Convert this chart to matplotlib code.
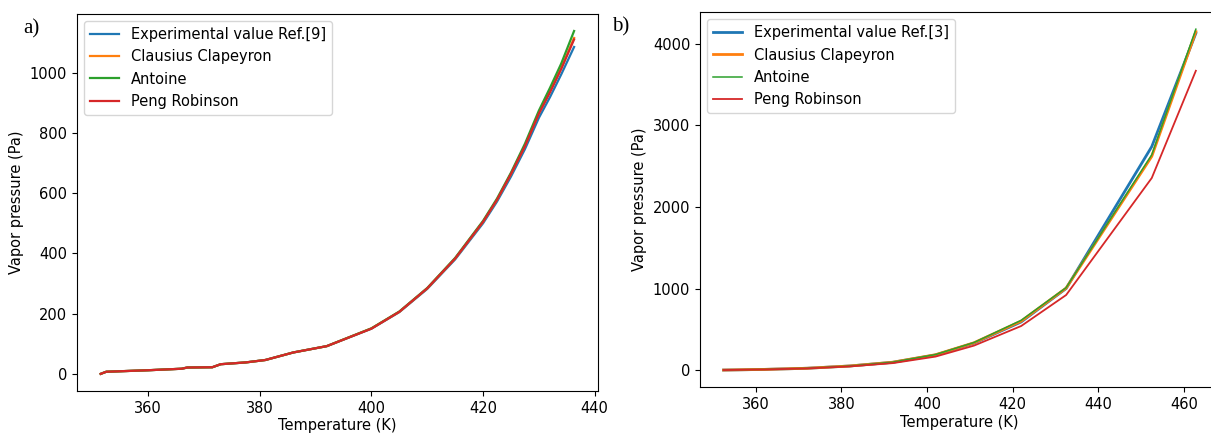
import numpy as np
import matplotlib.pyplot as plt

# ---- panel a) data (read off the picture) ----
T_a = [351.5, 352.5, 360, 366, 367, 371.5, 373, 377.5, 381, 386, 392,
       400, 405, 410, 415, 420, 422.5, 425, 427.5, 430, 432, 434, 436.3]
exp_a = [0, 7, 12, 17, 21, 22, 32, 38, 46, 71, 92,
         150, 205, 282, 380, 500, 572, 655, 746, 850, 919, 994, 1085]
cc_a = [0, 7, 12, 17, 21, 22, 32, 38, 46, 71, 92,
        151, 206, 284, 383, 505, 578, 664, 757, 866, 938, 1015, 1115]
ant_a = [0, 7, 12, 17, 21, 22, 32, 38, 46, 71, 92,
         151, 207, 285, 385, 508, 582, 668, 764, 874, 950, 1030, 1138]
pr_a = [0, 7, 12, 17, 21, 22, 32, 38, 46, 71, 92,
        150, 206, 284, 383, 505, 578, 664, 756, 864, 935, 1012, 1110]

# ---- panel b) data ----
T_b = [352.5, 362, 372, 382, 392, 402, 411, 422, 432.5, 452.5, 462.8]
exp_b = [0, 8, 22, 50, 95, 185, 330, 590, 1000, 2740, 4130]
cc_b = [0, 8, 22, 50, 96, 188, 335, 600, 1005, 2620, 4150]
ant_b = [0, 8, 22, 50, 97, 190, 338, 610, 1010, 2640, 4180]
pr_b = [0, 7, 20, 45, 85, 165, 300, 540, 920, 2355, 3670]

labels_a = ['Experimental value Ref.[9]', 'Clausius Clapeyron', 'Antoine', 'Peng Robinson']
labels_b = ['Experimental value Ref.[3]', 'Clausius Clapeyron', 'Antoine', 'Peng Robinson']
colors = ['#1f77b4', '#ff7f0e', '#2ca02c', '#d62728']

plt.rcParams['font.family'] = ['DejaVu Sans']
fs = 10.5

fig = plt.figure(figsize=(12.11, 4.33), dpi=100)

ax1 = fig.add_axes([0.0636, 0.097, 0.430, 0.871])
for y, lab, c in zip([exp_a, cc_a, ant_a, pr_a], labels_a, colors):
    ax1.plot(T_a, y, color=c, lw=1.6, label=lab)
ax1.set_xticks([360, 380, 400, 420, 440])
ax1.set_yticks([0, 200, 400, 600, 800, 1000])
ax1.set_xlabel('Temperature (K)', fontsize=fs, labelpad=2)
ax1.set_ylabel('Vapor pressure (Pa)', fontsize=fs)
ax1.tick_params(labelsize=fs)
ax1.legend(loc='upper left', fontsize=fs)

ax2 = fig.add_axes([0.578, 0.106, 0.429, 0.866])
lws = [2.0, 2.0, 1.1, 1.3]
for y, lab, c, lw in zip([exp_b, cc_b, ant_b, pr_b], labels_b, colors, lws):
    ax2.plot(T_b, y, color=c, lw=lw, label=lab)
ax2.set_xticks([360, 380, 400, 420, 440, 460])
ax2.set_yticks([0, 1000, 2000, 3000, 4000])
ax2.set_xlabel('Temperature (K)', fontsize=fs, labelpad=2)
ax2.set_ylabel('Vapor pressure (Pa)', fontsize=fs)
ax2.tick_params(labelsize=fs)
ax2.legend(loc='upper left', fontsize=fs)

fig.text(0.019, 0.922, 'a)', family='Liberation Serif', fontsize=15)
fig.text(0.505, 0.928, 'b)', family='Liberation Serif', fontsize=15)

fig.savefig('out.png', dpi=100)
